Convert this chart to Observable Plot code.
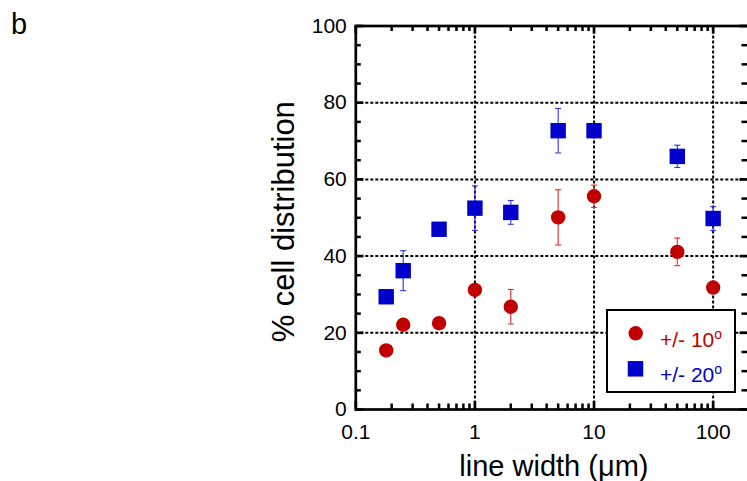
<!DOCTYPE html>
<html><head><meta charset="utf-8">
<script src="https://cdn.jsdelivr.net/npm/d3@7"></script>
<script src="https://cdn.jsdelivr.net/npm/@observablehq/plot@0.6"></script>
<style>
html,body{margin:0;padding:0;background:#fff;}
#wrap{position:relative;width:747px;height:481px;overflow:hidden;font-family:"Liberation Sans",Arial,sans-serif;}
#legend{position:absolute;left:606px;top:309px;}
</style></head><body><div id="wrap"></div>
<script>
// ---- data ----
const lineWidthUm = [0.18, 0.25, 0.5, 1, 2, 5, 10, 50, 100];
const pct10 = [15.4, 22.1, 22.5, 31.2, 26.8, 50.1, 55.6, 41.1, 31.8];
const err10 = [0, 1.5, 0, 0, 4.5, 7.2, 2.9, 3.6, 0];
const pct20 = [29.4, 36.2, 47.0, 52.5, 51.4, 72.7, 72.7, 66.0, 49.8];
const err20 = [0, 5.2, 0, 5.8, 3.1, 5.8, 0, 2.9, 3.1];
const seriesNames = ["+/- 10", "+/- 20"];
const seriesColors = ["#c00000", "#0000cc"];
const errColors = ["#e02a2a", "#3030e0"];
const xTickValues = [0.1, 1, 10, 100];
const xTickLabels = ["0.1", "1", "10", "100"];
const yTickValues = [0, 20, 40, 60, 80, 100];
const yTickLabels = ["0", "20", "40", "60", "80", "100"];
const xGrid = [1, 10, 100];
const yGrid = [20, 40, 60, 80];
const xMinor = [0.2,0.3,0.4,0.5,0.6,0.7,0.8,0.9, 2,3,4,5,6,7,8,9, 20,30,40,50,60,70,80,90];
const yMinor = [5,10,15,25,30,35,45,50,55,65,70,75,85,90,95];
const xTitle = "line width (\u03bcm)";
const yTitle = "% cell distribution";
const panelLabel = "b";

// ---- layout ----
const W = 747, H = 481;
const mL = 355.3, mT = 25.5, mB = 72, mR = -1.5;
const plotW = W - mL - mR, plotH = H - mT - mB;

const s10 = lineWidthUm.map((w, i) => ({w, v: pct10[i], e: err10[i]}));
const s20 = lineWidthUm.map((w, i) => ({w, v: pct20[i], e: err20[i]}));
const caps = s => s.filter(d => d.e > 0).flatMap(d => [{w: d.w, y: d.v + d.e}, {w: d.w, y: d.v - d.e}]);
const capSymbol = {draw(ctx, size) { const r = Math.sqrt(size / Math.PI); ctx.moveTo(-r, 0); ctx.lineTo(r, 0); }};

const chart = Plot.plot({
  width: W, height: H,
  marginLeft: mL, marginTop: mT, marginBottom: mB, marginRight: mR,
  style: {fontFamily: "'Liberation Sans', Arial, sans-serif", fontSize: "21px", background: "white", color: "black"},
  x: {type: "log", domain: [0.1, 200]},
  y: {domain: [0, 100]},
  marks: [
    Plot.ruleX(xGrid, {stroke: "black", strokeWidth: 2, strokeDasharray: "3,2"}),
    Plot.ruleY(yGrid, {stroke: "black", strokeWidth: 2, strokeDasharray: "3,2"}),
    // ticks (inward)
    Plot.ruleX(xMinor, {stroke: "black", strokeWidth: 2.5, insetTop: plotH - 5.5}),
    Plot.ruleX(xMinor, {stroke: "black", strokeWidth: 2.5, insetBottom: plotH - 5.5}),
    Plot.ruleX(xTickValues, {stroke: "black", strokeWidth: 2.7, insetTop: plotH - 8}),
    Plot.ruleX(xTickValues, {stroke: "black", strokeWidth: 2.7, insetBottom: plotH - 8}),
    Plot.ruleY(yMinor, {stroke: "black", strokeWidth: 2.5, insetRight: plotW - 5.5}),
    Plot.ruleY(yMinor, {stroke: "black", strokeWidth: 2.5, insetLeft: plotW - 7}),
    Plot.ruleY(yTickValues, {stroke: "black", strokeWidth: 2.7, insetRight: plotW - 8}),
    Plot.ruleY(yTickValues, {stroke: "black", strokeWidth: 2.7, insetLeft: plotW - 9}),
    Plot.frame({stroke: "black", strokeWidth: 2.7}),
    // error bars
    Plot.ruleX(s10.filter(d => d.e > 0), {x: "w", y1: d => d.v - d.e, y2: d => d.v + d.e, stroke: errColors[0], strokeWidth: 1.1}),
    Plot.dot(caps(s10), {x: "w", y: "y", symbol: capSymbol, r: 3, fill: "none", stroke: errColors[0], strokeWidth: 1.1}),
    Plot.ruleX(s20.filter(d => d.e > 0), {x: "w", y1: d => d.v - d.e, y2: d => d.v + d.e, stroke: errColors[1], strokeWidth: 1.1}),
    Plot.dot(caps(s20), {x: "w", y: "y", symbol: capSymbol, r: 3, fill: "none", stroke: errColors[1], strokeWidth: 1.1}),
    // markers
    Plot.dot(s10, {x: "w", y: "v", r: 7.2, fill: seriesColors[0], stroke: null}),
    Plot.dot(s20, {x: "w", y: "v", r: 8.7, symbol: "square", fill: seriesColors[1], stroke: null}),
    // axes labels
    Plot.axisX({ticks: xTickValues, tickFormat: d => xTickLabels[xTickValues.indexOf(d)], tickSize: 0, tickPadding: 15, fontSize: 21, label: null}),
    Plot.axisY({ticks: yTickValues, tickFormat: d => yTickLabels[yTickValues.indexOf(d)], tickSize: 0, tickPadding: 9, fontSize: 21, label: null}),
    Plot.text([xTitle], {frameAnchor: "bottom", textAnchor: "middle", lineAnchor: "middle", dx: 1.5, dy: 57, fontSize: 29, fill: "black"}),
    Plot.text([yTitle], {frameAnchor: "left", textAnchor: "middle", lineAnchor: "middle", rotate: -90, dx: -72, dy: 4, fontSize: 31, fill: "black"}),
    Plot.text([panelLabel], {frameAnchor: "top-left", textAnchor: "start", lineAnchor: "middle", dx: 10.4 - mL, dy: -1.5, fontSize: 29, fill: "black"})
  ]
});
const wrap = document.getElementById("wrap");
wrap.appendChild(chart);

// ---- legend ----
const leg = d3.select(wrap).append("svg").attr("id", "legend").attr("width", 130).attr("height", 84)
  .style("font-family", "'Liberation Sans', Arial, sans-serif");
leg.append("rect").attr("x", 1).attr("y", 1).attr("width", 128).attr("height", 82)
  .attr("fill", "white").attr("stroke", "black").attr("stroke-width", 2);
leg.append("circle").attr("cx", 29.7).attr("cy", 24.3).attr("r", 7.2).attr("fill", seriesColors[0]);
leg.append("rect").attr("x", 29.5 - 7.75).attr("y", 59.8 - 7.75).attr("width", 15.5).attr("height", 15.5).attr("fill", seriesColors[1]);
seriesNames.forEach((name, i) => {
  const t = leg.append("text").attr("x", 54).attr("y", [37.7, 72.7][i]).attr("fill", seriesColors[i]).attr("font-size", 21);
  t.append("tspan").text(name);
  t.append("tspan").attr("dy", -8).attr("font-size", 14).text("o");
});
</script>
</body></html>
